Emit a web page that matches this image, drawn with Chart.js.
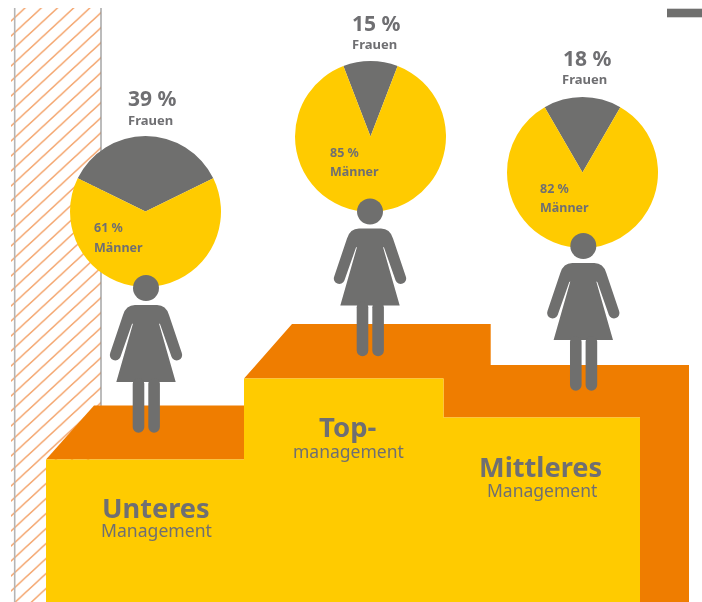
<!DOCTYPE html>
<html lang="de">
<head>
<meta charset="utf-8">
<title>Frauen im Management</title>
<script src="https://cdn.jsdelivr.net/npm/chart.js@4"></script>
<style>
html,body{margin:0;padding:0;background:#fff;}
#stage{position:relative;width:702px;height:602px;overflow:hidden;background:#fff;font-family:"Noto Sans","Open Sans",sans-serif;filter:blur(0.45px);}
svg{position:absolute;left:0;top:0;}
#back{z-index:1}
.pie{position:absolute;z-index:2;}
#front{z-index:3}
.t{position:absolute;z-index:4;white-space:nowrap;color:#6f6f72;transform:translateY(-50%);line-height:1;}
</style>
</head>
<body>
<div id="stage">
<svg id="back" width="702" height="602" viewBox="0 0 702 602">
  <defs>
    <pattern id="hatch" width="16.2" height="15" patternUnits="userSpaceOnUse" patternTransform="translate(11 6)">
      <path d="M-1.62 1.5L1.62 -1.5M-1.62 16.5L16.2 0M14.58 16.5L17.82 13.5" stroke="#f4a872" stroke-width="1.6" fill="none"/>
    </pattern>
  </defs>
  <rect x="11" y="8" width="90" height="594" fill="url(#hatch)"/>
  <line x1="14.7" y1="8" x2="14.7" y2="602" stroke="#b5b5b5" stroke-width="1.6"/>
  <line x1="101" y1="8" x2="101" y2="406" stroke="#8f8f8f" stroke-width="1.2"/>
  <rect x="667" y="8.7" width="35" height="8.6" fill="#6f6f6e"/>
  <!-- podium -->
  <polygon points="46,459.5 94,405.5 244,405.5 244,459.5" fill="#ef7d00"/>
  <polygon points="244,378.5 292,324 490.7,324 490.7,365 689,365 689,602 640,602 640,417.5 443.5,417.5 443.5,378.5" fill="#ef7d00"/>
  <polygon points="46,459.5 244,459.5 244,378.5 443.5,378.5 443.5,417.5 640,417.5 640,602 46,602" fill="#ffcb00"/>
</svg>
<svg id="front" width="702" height="602" viewBox="0 0 702 602">
  <defs>
    <g id="woman" fill="#6f6f6e">
      <circle cx="0" cy="0" r="13"/>
      <path d="M0 17H-11Q-20 17 -23 27L-35.8 65A5.3 5.3 0 0 0 -25.6 69L-14 36L-13 35.5L-29.7 94H29.7L13 35.5L14 36L25.6 69A5.3 5.3 0 0 0 35.8 65L23 27Q20 17 11 17Z"/>
      <rect x="-13.3" y="90" width="11.6" height="54.7" rx="5.8"/>
      <rect x="2.3" y="90" width="11.6" height="54.7" rx="5.8"/>
    </g>
  </defs>
  <use href="#woman" x="146" y="288"/>
  <use href="#woman" x="370" y="211.5"/>
  <use href="#woman" x="583.3" y="246"/>
</svg>
</div>
<script>
// Data
const categories = ["Unteres Management", "Topmanagement", "Mittleres Management"];
// Percentages as printed on the graphic
const womenPrinted = [39, 15, 18];
const menPrinted   = [61, 85, 82];
// Slice sizes as actually drawn in the graphic (measured from the wedge angles)
const womenSlice = [35.5, 11.7, 16.7];
const menSlice   = [64.5, 88.3, 83.3];
const sliceLabels = ["Frauen", "Männer"];

// Layout and styles (not data)
const pieCenters = [[145.5, 211], [370, 136.5], [582.5, 172]];
const pieRadius = 75.7;
const womenLabelPos = [[128, 98, 128, 120], [352, 23, 352, 44], [563, 58, 562, 79]];
const menLabelPos   = [[94, 228, 94, 248], [330, 153, 330, 172], [540, 189, 540, 208]];
const GREY = "#6f6f6e", YELLOW = "#ffcb00";

const stage = document.getElementById("stage");
function addText(str, x, y, size, weight) {
  const el = document.createElement("div");
  el.className = "t";
  el.textContent = str;
  el.style.left = x + "px";
  el.style.top = y + "px";
  el.style.fontSize = size + "px";
  el.style.fontWeight = weight;
  stage.appendChild(el);
}

categories.forEach((cat, i) => {
  const [cx, cy] = pieCenters[i];
  const box = document.createElement("div");
  box.className = "pie";
  const size = Math.round(pieRadius * 2);
  box.style.cssText = `left:${cx - size / 2}px;top:${cy - size / 2}px;width:${size}px;height:${size}px`;
  const canvas = document.createElement("canvas");
  canvas.width = size; canvas.height = size;
  box.appendChild(canvas);
  stage.appendChild(box);
  new Chart(canvas, {
    type: "pie",
    data: {
      labels: sliceLabels,
      datasets: [{
        label: cat,
        data: [womenSlice[i], menSlice[i]],
        backgroundColor: [GREY, YELLOW],
        borderWidth: 0
      }]
    },
    options: {
      responsive: false,
      animation: false,
      rotation: -womenSlice[i] * 3.6 / 2,
      layout: { padding: 0 },
      plugins: { legend: { display: false }, tooltip: { enabled: false } }
    }
  });
  const wp = womenLabelPos[i], mp = menLabelPos[i];
  addText(womenPrinted[i] + " %", wp[0], wp[1], 21, 700);
  addText(sliceLabels[0], wp[2], wp[3], 13, 700);
  addText(menPrinted[i] + " %", mp[0], mp[1], 12.5, 700);
  addText(sliceLabels[1], mp[2], mp[3], 12.5, 700);
});

addText("Unteres", 102, 508, 27.2, 700);
addText("Management", 101, 531, 17.6, 400);
addText("Top-", 319, 427, 27.5, 700);
addText("management", 293, 452, 17.5, 400);
addText("Mittleres", 479, 467, 27.2, 700);
addText("Management", 487, 491, 17.5, 400);
</script>
</body>
</html>
